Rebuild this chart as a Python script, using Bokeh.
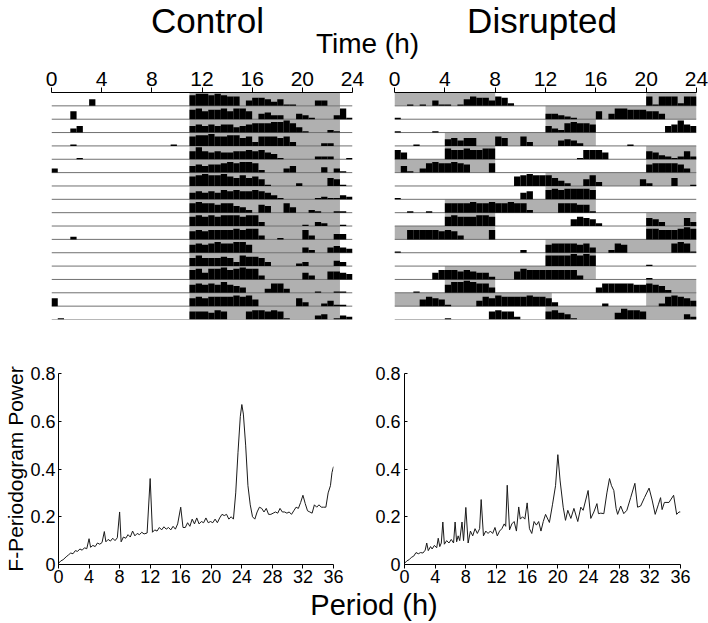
import numpy as np
from bokeh.plotting import figure
from bokeh.models import Range1d, FixedTicker, Label
from bokeh.layouts import column, row
from bokeh.embed import file_html
from bokeh.resources import INLINE

FONT = "Liberation Sans"
GRAY = "#b0b0b0"
BASE_COLOR = "#707070"

# ---------------- data ----------------
HOUR_TICKS = [0, 4, 8, 12, 16, 20, 24]
PERIOD_TICKS = [0, 4, 8, 12, 16, 20, 24, 28, 32, 36]
POWER_TICKS = [0, 0.2, 0.4, 0.6, 0.8]
POWER_LABELS = ["0", "0.2", "0.4", "0.6", "0.8"]
BIN_H = 0.5  # activity bins of 30 min; digits = bar height in tenths of a row

CONTROL_ACT = [
    "00000050" "00000000" "00000089" "98987704" "66535110" "00440000",
    "00060000" "00000000" "00000078" "67786886" "04533004" "31000381",
    "00035000" "00000000" "00000056" "56566456" "77788974" "10002100",
    "00010000" "00000000" "00010078" "89778867" "37776730" "00022000",
    "00001000" "00000000" "00000069" "65655667" "67541000" "00222001",
    "30000000" "00000000" "00000056" "56678788" "72000350" "00040310",
    "00000000" "00000000" "00000078" "98897686" "75100002" "00006510",
    "00000000" "00000000" "00000056" "56576766" "76531000" "00121132",
    "00000000" "00000000" "00000078" "77677542" "06500740" "02100110",
    "00000000" "00000000" "00000078" "78788878" "83000000" "10320010",
    "00020000" "00000000" "00000067" "67777878" "83001000" "73000440",
    "00000000" "00000000" "00000067" "67877886" "00000000" "42004543",
    "00000000" "00000000" "00000068" "66676387" "76300002" "30000430",
    "00000000" "00000000" "00000078" "58897898" "83000000" "53006654",
    "00000000" "00000000" "00000067" "67686540" "00377300" "00100110",
    "60000000" "00000000" "00000067" "67777878" "50000006" "30024110",
    "01000000" "00000000" "00000066" "65760006" "77676100" "00340132",
]
CONTROL_DARK = [[(11, 23)] for _ in range(17)]

DISRUPTED_ACT = [
    "00101041" "10157664" "76200000" "00000000" "00000000" "71777277",
    "10000000" "00000000" "00000000" "44321000" "60488777" "66400000",
    "10000010" "00000000" "00000000" "53278776" "00000000" "00056965",
    "00010000" "56466000" "76007300" "00454200" "00000100" "00000000",
    "75000000" "87787788" "00000000" "00000177" "75000000" "65321262",
    "05103787" "78760007" "00000000" "00000000" "00000000" "67777630",
    "00000000" "00000000" "00078988" "86420058" "30000005" "20006001",
    "10000000" "00000000" "00005600" "78788887" "00000000" "00000000",
    "00100100" "77778778" "77877200" "00777661" "00000000" "00000000",
    "00000000" "78777887" "00000000" "00005765" "20000000" "65300063",
    "00777776" "76300007" "00000000" "00000000" "00000000" "88777898",
    "10000000" "00000000" "00002000" "67777674" "00276000" "00007871",
    "00000000" "00000000" "00000000" "88889898" "00000000" "10000000",
    "00000057" "77676552" "00068777" "77777300" "00000000" "10000000",
    "00010000" "68898774" "00000000" "00000000" "47777766" "76520000",
    "00005765" "10000476" "87777877" "63000000" "02000000" "00278764",
    "00000000" "10000006" "76620000" "67541000" "00058776" "00000042",
]
DISRUPTED_DARK = [
    [(0, 8), (20, 24)], [(12, 24)], [(12, 16)], [(4, 16)], [(4, 8), (20, 24)],
    [(0, 8), (20, 24)], [(12, 24)], [(12, 16)], [(4, 16)], [(4, 8), (20, 24)],
    [(0, 8), (20, 24)], [(12, 24)], [(12, 16)], [(4, 16)], [(4, 8), (20, 24)],
    [(0, 12.5), (20, 24)], [(12, 24)],
]

CTRL_PERIOD = [0.0, 0.3, 0.6, 1.0, 1.3, 1.6, 1.9, 2.2, 2.5, 2.8, 3.1, 3.4, 3.7, 4.0, 4.2, 4.5, 4.8,
               5.1, 5.4, 5.7, 6.0, 6.2, 6.5, 6.8, 7.1, 7.4, 7.7, 8.0, 8.2, 8.5, 8.8, 9.1, 9.4, 9.7,
               10.0, 10.3, 10.6, 10.9, 11.2, 11.6, 12.0, 12.3, 12.6, 12.9, 13.2, 13.5, 13.8, 14.1,
               14.4, 14.7, 15.0, 15.3, 15.6, 16.0, 16.3, 16.6, 16.9, 17.2, 17.5, 17.8, 18.1, 18.4,
               18.7, 19.0, 19.3, 19.6, 19.9, 20.2, 20.5, 20.8, 21.1, 21.4, 21.7, 22.0, 22.3, 22.6,
               22.9, 23.2, 23.5, 23.8, 24.0, 24.2, 24.5, 24.8, 25.1, 25.4, 25.7, 26.0, 26.3, 26.6,
               26.9, 27.2, 27.5, 27.8, 28.1, 28.4, 28.7, 29.0, 29.3, 29.6, 29.9, 30.2, 30.5, 30.8,
               31.1, 31.4, 31.7, 32.0, 32.3, 32.6, 32.9, 33.2, 33.5, 33.8, 34.1, 34.4, 34.7, 35.0,
               35.3, 35.6, 35.8, 36.0]
CTRL_POWER = [0.005, 0.015, 0.02, 0.032, 0.04, 0.048, 0.045, 0.058, 0.055, 0.065, 0.06, 0.07, 0.066,
              0.108, 0.072, 0.08, 0.075, 0.09, 0.085, 0.092, 0.138, 0.095, 0.105, 0.098, 0.11, 0.1,
              0.112, 0.22, 0.095, 0.115, 0.11, 0.125, 0.115, 0.14, 0.12, 0.13, 0.125, 0.135, 0.128,
              0.132, 0.36, 0.135, 0.145, 0.14, 0.155, 0.145, 0.158, 0.148, 0.155, 0.145, 0.16, 0.148,
              0.17, 0.24, 0.155, 0.155, 0.175, 0.16, 0.19, 0.17, 0.195, 0.17, 0.18, 0.175, 0.195,
              0.175, 0.18, 0.175, 0.19, 0.175, 0.195, 0.21, 0.205, 0.21, 0.19, 0.2, 0.19, 0.3, 0.47,
              0.62, 0.67, 0.63, 0.5, 0.33, 0.25, 0.2, 0.19, 0.22, 0.24, 0.235, 0.22, 0.235, 0.21,
              0.21, 0.215, 0.22, 0.215, 0.235, 0.22, 0.22, 0.215, 0.22, 0.21, 0.225, 0.24, 0.235,
              0.26, 0.29, 0.255, 0.225, 0.22, 0.215, 0.25, 0.24, 0.25, 0.24, 0.24, 0.24, 0.3, 0.33,
              0.385, 0.41]

DIS_PERIOD = [0.0, 0.3, 0.6, 0.9, 1.2, 1.5, 1.8, 2.1, 2.4, 2.7, 2.9, 3.1, 3.4, 3.6, 3.9, 4.2, 4.4,
              4.6, 4.8, 5.0, 5.2, 5.5, 5.8, 6.1, 6.4, 6.6, 6.8, 7.0, 7.2, 7.5, 7.7, 8.0, 8.3, 8.6,
              8.9, 9.2, 9.5, 9.8, 10.0, 10.3, 10.6, 10.9, 11.2, 11.5, 11.8, 12.1, 12.4, 12.7, 13.0,
              13.2, 13.4, 13.7, 14.0, 14.3, 14.6, 14.9, 15.1, 15.4, 15.7, 16.0, 16.3, 16.6, 16.9,
              17.2, 17.5, 17.8, 18.1, 18.4, 18.9, 19.3, 19.7, 20.0, 20.3, 20.7, 21.0, 21.3, 21.7,
              22.1, 22.6, 23.0, 23.3, 23.95, 24.3, 24.7, 25.1, 25.3, 25.6, 26.0, 26.4, 26.74, 27.0,
              27.3, 27.6, 27.8, 28.2, 28.6, 29.0, 29.5, 30.05, 30.4, 30.8, 31.3, 31.9, 32.3, 32.7,
              33.1, 33.4, 33.6, 33.9, 34.5, 35.1, 35.5, 35.8, 36.0]
DIS_POWER = [0.005, 0.015, 0.02, 0.03, 0.035, 0.05, 0.045, 0.05, 0.048, 0.06, 0.09, 0.058, 0.075,
             0.065, 0.08, 0.07, 0.11, 0.075, 0.09, 0.178, 0.085, 0.1, 0.09, 0.105, 0.09, 0.178, 0.095,
             0.12, 0.1, 0.178, 0.1, 0.239, 0.09, 0.14, 0.12, 0.15, 0.13, 0.15, 0.272, 0.12, 0.14,
             0.13, 0.14, 0.13, 0.155, 0.12, 0.14, 0.15, 0.17, 0.16, 0.332, 0.145, 0.17, 0.18, 0.14,
             0.241, 0.19, 0.2, 0.19, 0.258, 0.15, 0.13, 0.18, 0.165, 0.18, 0.14, 0.18, 0.21, 0.176,
             0.25, 0.33, 0.46, 0.35, 0.24, 0.185, 0.227, 0.193, 0.235, 0.18, 0.24, 0.227, 0.31,
             0.193, 0.22, 0.255, 0.213, 0.215, 0.213, 0.3, 0.36, 0.33, 0.31, 0.235, 0.21, 0.245,
             0.213, 0.227, 0.28, 0.34, 0.24, 0.245, 0.28, 0.32, 0.27, 0.21, 0.25, 0.28, 0.23, 0.26,
             0.26, 0.29, 0.21, 0.22, 0.22]


def base_fig(**kw):
    p = figure(toolbar_location=None, output_backend="svg", outline_line_color=None, title=None,
               background_fill_color="white", border_fill_color="white", **kw)
    p.grid.visible = False
    return p


def style_axis(ax, size):
    ax.major_label_text_font = FONT
    ax.major_label_text_font_size = size
    ax.major_label_text_color = "black"
    ax.axis_line_color = "black"
    ax.major_tick_line_color = "black"
    ax.minor_tick_line_color = None


def actogram(rows, dark, width, left, right):
    n = len(rows)
    p = base_fig(width=width, height=270, x_range=Range1d(HOUR_TICKS[0], HOUR_TICKS[-1]),
                 y_range=Range1d(n, 0), x_axis_location="above", y_axis_location=None,
                 min_border_left=left, min_border_right=right, min_border_top=32, min_border_bottom=11)
    dl, dr, dt, db = [], [], [], []
    for r, blocks in enumerate(dark):
        for s, e in blocks:
            dl.append(s); dr.append(e); dt.append(r); db.append(r + 1)
    p.quad(left=dl, right=dr, top=dt, bottom=db, fill_color=GRAY, line_color=None)
    ys = [r + 1 for r in range(n)]
    p.segment(x0=[HOUR_TICKS[0]] * n, x1=[HOUR_TICKS[-1]] * n, y0=ys, y1=ys,
              line_color=BASE_COLOR, line_width=1)
    bl, br, bt, bb = [], [], [], []
    for r, s in enumerate(rows):
        for i, ch in enumerate(s):
            h = int(ch)
            if h > 0:
                bl.append(i * BIN_H); br.append((i + 1) * BIN_H)
                bb.append(r + 1); bt.append(r + 1 - h / 10.0)
    p.quad(left=bl, right=br, top=bt, bottom=bb, fill_color="black", line_color=None)
    ax = p.xaxis[0]
    ax.ticker = FixedTicker(ticks=HOUR_TICKS)
    style_axis(ax, "21px")
    ax.major_tick_out = 5
    ax.major_tick_in = 0
    ax.major_label_standoff = 2
    return p


def periodogram(period, power, width, left, right, ylabel=None):
    p = base_fig(width=width, height=260, x_range=Range1d(PERIOD_TICKS[0], PERIOD_TICKS[-1]),
                 y_range=Range1d(POWER_TICKS[0], POWER_TICKS[-1]),
                 min_border_left=left, min_border_right=right, min_border_top=43, min_border_bottom=26)
    p.line(period, power, line_color="#1a1a1a", line_width=1)
    xa = p.xaxis[0]
    xa.ticker = FixedTicker(ticks=PERIOD_TICKS)
    style_axis(xa, "18px")
    xa.major_tick_out = 4
    xa.major_tick_in = 0
    xa.major_label_standoff = 1
    ya = p.yaxis[0]
    ya.ticker = FixedTicker(ticks=POWER_TICKS)
    ya.major_label_overrides = {t: l for t, l in zip(POWER_TICKS, POWER_LABELS)}
    style_axis(ya, "18px")
    ya.major_tick_out = 0
    ya.major_tick_in = 3
    ya.major_label_standoff = 4
    if ylabel:
        ya.major_label_standoff = 3
        ya.axis_label = ylabel
        ya.axis_label_text_font = FONT
        ya.axis_label_text_font_size = "21px"
        ya.axis_label_text_font_style = "normal"
        ya.axis_label_text_color = "black"
        ya.axis_label_standoff = 0
    return p


# header with titles (x, y in pixels of the header strip)
header = base_fig(width=708, height=60, x_range=Range1d(0, 708), y_range=Range1d(0, 60),
                  x_axis_location=None, y_axis_location=None,
                  min_border_left=0, min_border_right=0, min_border_top=0, min_border_bottom=0)
for txt, x, y, size in [("Control", 207, 40, "35px"), ("Disrupted", 541.5, 40, "35px"),
                        ("Time (h)", 367, 17, "28px")]:
    header.add_layout(Label(x=x, y=y, text=txt, text_font=FONT, text_font_size=size,
                            text_align="center", text_baseline="middle", text_color="black"))

actA = actogram(CONTROL_ACT, CONTROL_DARK, 372, 51, 20)
actB = actogram(DISRUPTED_ACT, DISRUPTED_DARK, 336, 22, 12)

perA = periodogram(CTRL_PERIOD, CTRL_POWER, 372, 58, 39, ylabel="F-Periodogram Power")
perB = periodogram(DIS_PERIOD, DIS_POWER, 336, 32, 28)

footer = base_fig(width=708, height=33, x_range=Range1d(0, 708), y_range=Range1d(0, 33),
                  x_axis_location=None, y_axis_location=None,
                  min_border_left=0, min_border_right=0, min_border_top=0, min_border_bottom=0)
footer.add_layout(Label(x=373.5, y=18.4, text="Period (h)", text_font=FONT, text_font_size="29px",
                        text_align="center", text_baseline="middle", text_color="black"))

layout = column(header, row(actA, actB), row(perA, perB), footer)
open("out.html", "w").write(file_html(layout, INLINE))
